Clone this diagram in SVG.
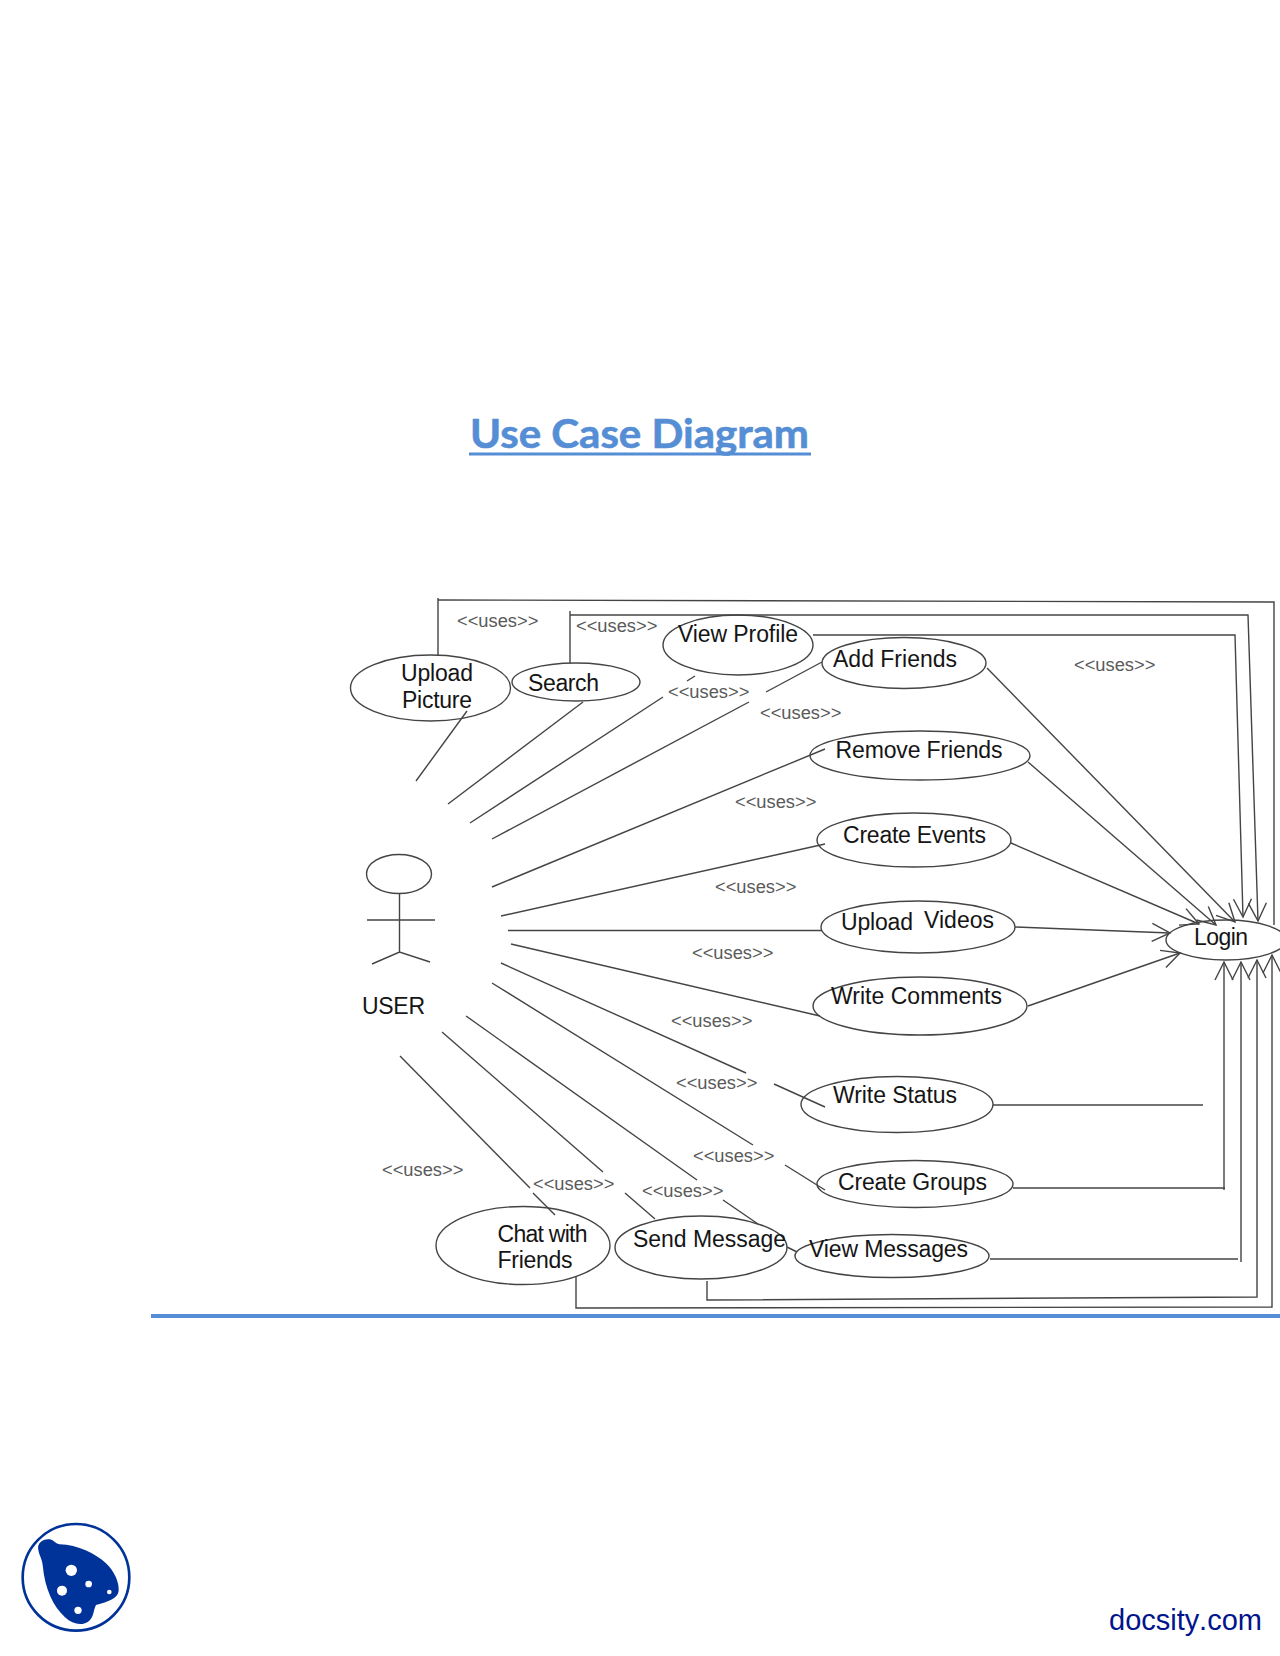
<svg xmlns="http://www.w3.org/2000/svg" width="1280" height="1656" viewBox="0 0 1280 1656">
<style>
.n{font-family:"Liberation Sans",Arial,sans-serif;font-size:23px;fill:#151515}
.u{font-family:"Liberation Sans",Arial,sans-serif;font-size:18.300px;fill:#5a5a5a}
.e{fill:none;stroke:#444;stroke-width:1.4}
.c path{fill:none;stroke:#444;stroke-width:1.4}
.c .a{marker-end:url(#open)}
.t{font-family:Lato,"Open Sans",sans-serif;font-size:40px;font-weight:700;fill:#558ed5;stroke:#558ed5;stroke-width:.6}
.d{font-family:"Liberation Sans",Arial,sans-serif;font-size:29px;fill:#00148c}
</style>
<defs>
<marker id="open" markerUnits="userSpaceOnUse" markerWidth="24" markerHeight="24" refX="19" refY="12" orient="auto" overflow="visible">
<path d="M1,3 L19,12 L1,21" fill="none" stroke="#444" stroke-width="1.4"/>
</marker>
</defs>
<rect width="1280" height="1656" fill="#fff"/>

<g id="title">
<text class="t" x="470" y="448" textLength="339" lengthAdjust="spacingAndGlyphs">Use Case Diagram</text>
<path d="M469,454H811" stroke="#558ed5" stroke-width="3" fill="none"/>
</g>

<g id="connectors" class="c">
<path d="M467,711L416,781"/>
<path d="M583,702L448,804"/>
<path d="M695,676L687,681"/>
<path d="M663,697L470,823"/>
<path d="M749,702L492,839"/>
<path d="M766,692L822,662"/>
<path d="M492,887L825,749"/>
<path d="M501,916L825,844"/>
<path d="M508,930.500H822"/>
<path d="M511,944L820,1016"/>
<path d="M501,963L746,1073"/>
<path d="M774,1084L825,1107"/>
<path d="M492,983L753,1145"/>
<path d="M785,1165L825,1190"/>
<path d="M466,1016L697,1180"/>
<path d="M723,1200L758,1224"/>
<path d="M787,1247L797,1252"/>
<path d="M442,1032L603,1172"/>
<path d="M625,1193L655,1219"/>
<path d="M400,1056L530,1188"/>
<path d="M533,1193L555,1215"/>
<path d="M438,655V598"/>
<path d="M438,600L1274,602V925"/>
<path class="a" d="M570,663V611V615H1248L1258,921"/>
<path class="a" d="M813,635H1235L1243,917"/>
<path class="a" d="M987,668L1235,922"/>
<path class="a" d="M1028,762L1216,925"/>
<path class="a" d="M1011,843L1199,924"/>
<path class="a" d="M1015,927L1170,933"/>
<path class="a" d="M1028,1006L1180,953"/>
<path d="M993,1105H1203"/>
<path class="a" d="M1013,1188H1225M1224,1190V962"/>
<path class="a" d="M990,1259H1238M1241,1262V962"/>
<path class="a" d="M707,1281V1300L1257,1297V960"/>
<path class="a" d="M576,1276V1308L1272,1307V955"/>
</g>

<g id="uses-labels">
<text class="u" x="457" y="627">&lt;&lt;uses&gt;&gt;</text>
<text class="u" x="576" y="632">&lt;&lt;uses&gt;&gt;</text>
<text class="u" x="668" y="698">&lt;&lt;uses&gt;&gt;</text>
<text class="u" x="760" y="719">&lt;&lt;uses&gt;&gt;</text>
<text class="u" x="735" y="808">&lt;&lt;uses&gt;&gt;</text>
<text class="u" x="715" y="893">&lt;&lt;uses&gt;&gt;</text>
<text class="u" x="1074" y="671">&lt;&lt;uses&gt;&gt;</text>
<text class="u" x="692" y="959">&lt;&lt;uses&gt;&gt;</text>
<text class="u" x="671" y="1027">&lt;&lt;uses&gt;&gt;</text>
<text class="u" x="676" y="1089">&lt;&lt;uses&gt;&gt;</text>
<text class="u" x="693" y="1162">&lt;&lt;uses&gt;&gt;</text>
<text class="u" x="642" y="1197">&lt;&lt;uses&gt;&gt;</text>
<text class="u" x="533" y="1190">&lt;&lt;uses&gt;&gt;</text>
<text class="u" x="382" y="1176">&lt;&lt;uses&gt;&gt;</text>
</g>

<g id="actor-user">
<ellipse class="e" cx="399" cy="874" rx="32.500" ry="19.500"/>
<path class="e" d="M399.500,893V952M367,920H435M372,964L399.500,952L430,962"/>
<text class="n" x="362" y="1014" textLength="63">USER</text>
</g>
<g id="upload-picture"><ellipse class="e" cx="430.500" cy="688" rx="80" ry="33"/><text class="n" x="401" y="681" textLength="72">Upload</text><text class="n" x="402" y="708" textLength="70">Picture</text></g>
<g id="search"><ellipse class="e" cx="576" cy="682" rx="64" ry="19"/><text class="n" x="528" y="691" textLength="71">Search</text></g>
<g id="view-profile"><ellipse class="e" cx="738" cy="645" rx="75" ry="30"/><text class="n" x="678" y="642" textLength="120">View Profile</text></g>
<g id="add-friends"><ellipse class="e" cx="904" cy="663" rx="82" ry="25.500"/><text class="n" x="833" y="667" textLength="124">Add Friends</text></g>
<g id="remove-friends"><ellipse class="e" cx="920" cy="755.500" rx="110" ry="24.500"/><text class="n" x="835.500" y="758" textLength="167">Remove Friends</text></g>
<g id="create-events"><ellipse class="e" cx="914" cy="840" rx="97" ry="27"/><text class="n" x="843" y="843" textLength="143">Create Events</text></g>
<g id="upload-videos"><ellipse class="e" cx="918" cy="927" rx="97" ry="26"/><text class="n" x="841" y="930" textLength="72">Upload</text><text class="n" x="924" y="928" textLength="70">Videos</text></g>
<g id="login"><ellipse class="e" cx="1226" cy="940" rx="60" ry="20"/><text class="n" x="1194" y="945" textLength="54">Login</text></g>
<g id="write-comments"><ellipse class="e" cx="920" cy="1006" rx="107" ry="29"/><text class="n" x="831" y="1004" textLength="171">Write Comments</text></g>
<g id="write-status"><ellipse class="e" cx="897" cy="1104.500" rx="96" ry="28"/><text class="n" x="833" y="1103" textLength="124">Write Status</text></g>
<g id="create-groups"><ellipse class="e" cx="915" cy="1184" rx="98" ry="23.500"/><text class="n" x="838" y="1190" textLength="149">Create Groups</text></g>
<g id="view-messages"><ellipse class="e" cx="892" cy="1256" rx="97" ry="21.500"/><text class="n" x="809" y="1257" textLength="159">View Messages</text></g>
<g id="send-message"><ellipse class="e" cx="701" cy="1247.500" rx="86" ry="31.500"/><text class="n" x="633" y="1247" textLength="153">Send Message</text></g>
<g id="chat-with-friends"><ellipse class="e" cx="523" cy="1245.500" rx="87" ry="39"/><text class="n" x="497.500" y="1242" textLength="90">Chat with</text><text class="n" x="497.500" y="1268" textLength="75">Friends</text></g>

<path id="footer-rule" d="M151,1316H1280" stroke="#558ed5" stroke-width="4" fill="none"/>

<g id="logo" transform="translate(0,1500) scale(.3333)">
<circle cx="228" cy="232" r="160" fill="none" stroke="#003399" stroke-width="8"/>
<path fill="#003399" d="M115,150C110,128 130,115 150,118C162,120 165,131 178,133C235,135 285,160 318,190C345,215 358,250 356,272C354,295 325,305 288,315C280,330 282,350 268,362C250,378 220,376 195,352C160,318 135,270 128,195C126,175 118,168 115,150Z"/>
<g fill="#fff"><circle cx="214" cy="211" r="17"/><circle cx="186" cy="272" r="15"/><circle cx="266" cy="252" r="10"/><circle cx="328" cy="276" r="7"/><circle cx="234" cy="331" r="11"/></g>
</g>

<text id="docsity" class="d" x="1109" y="1630">docsity<tspan dx="2">.com</tspan></text>
</svg>
